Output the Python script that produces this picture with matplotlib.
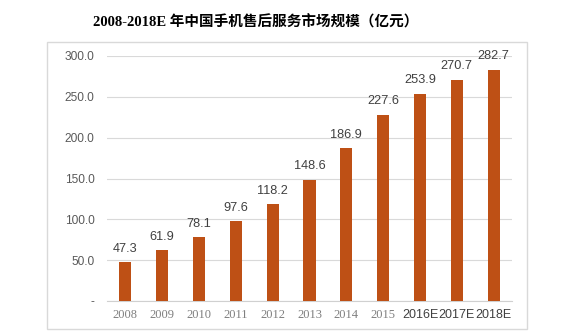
import matplotlib
matplotlib.use('Agg')
import matplotlib.pyplot as plt
import matplotlib.patches as mpatches

years = ['2008', '2009', '2010', '2011', '2012', '2013', '2014', '2015', '2016E', '2017E', '2018E']
values = [47.3, 61.9, 78.1, 97.6, 118.2, 148.6, 186.9, 227.6, 253.9, 270.7, 282.7]
yticks = [0, 50, 100, 150, 200, 250, 300]
title = '2008-2018E 年中国手机售后服务市场规模（亿元）'

W, H = 578, 331
fig = plt.figure(figsize=(W / 100, H / 100), dpi=100)

# outer light border of the chart area
box = mpatches.Rectangle((47 / W, 1 - 329 / H), 480 / W, 287 / H, transform=fig.transFigure,
                         fill=False, edgecolor='#D9D9D9', linewidth=1.0)
fig.patches.append(box)

ax = fig.add_axes([107 / W, 1 - 301 / H, 405 / W, 245 / H])
x = range(len(years))
bars = ax.bar(x, values, width=0.33, color='#BE5015', zorder=3)
for xi, v in zip(x, values):
    ax.annotate(f'{v:.1f}', (xi, v), xytext=(0, 5.5), textcoords='offset points',
                ha='center', va='bottom', fontsize=9.2, color='#404040',
                family='Liberation Sans')

ax.set_xlim(-0.5, len(years) - 0.5)
ax.set_ylim(0, 300)
ax.set_yticks(yticks)
ax.set_yticklabels(['-' if t == 0 else f'{t:.1f}' for t in yticks],
                   family='Liberation Sans', fontsize=8.6, color='#595959')
ax.set_xticks(list(x))
ax.set_xticklabels(years)
for lab in ax.get_xticklabels():
    if lab.get_text().endswith('E'):
        lab.set_family('Liberation Sans')
        lab.set_color('#404040')
    else:
        lab.set_family('Liberation Serif')
        lab.set_color('#7F7F7F')
    lab.set_fontsize(9)
ax.tick_params(axis='both', length=0)
ax.tick_params(axis='y', pad=9)
ax.tick_params(axis='x', pad=6)
ax.grid(axis='y', color='#D9D9D9', linewidth=0.8, zorder=0)
for s in ['top', 'right', 'left']:
    ax.spines[s].set_visible(False)
ax.spines['bottom'].set_color('#D0D0D0')

fig.text(256 / W, 1 - 22 / H, title, ha='center', va='center', fontsize=10.5,
         fontweight='bold', family=['Liberation Serif', 'Noto Sans CJK SC'])

fig.savefig('out.png', dpi=100)
